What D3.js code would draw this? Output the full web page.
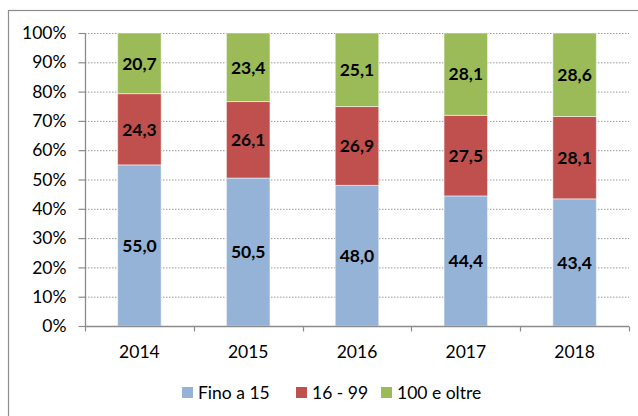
<!DOCTYPE html>
<html><head><meta charset="utf-8">
<script src="https://cdn.jsdelivr.net/npm/d3@7"></script>
<style>body{margin:0;background:#fff}svg{display:block;font-family:Lato,"Open Sans",sans-serif}</style>
</head><body><svg id="c" width="638" height="416"></svg>
<script>
const years = ["2014","2015","2016","2017","2018"];
const seriesNames = ["Fino a 15","16 - 99","100 e oltre"];
const fino15 = [55.0,50.5,48.0,44.4,43.4];
const s16_99 = [24.3,26.1,26.9,27.5,28.1];
const s100 = [20.7,23.4,25.1,28.1,28.6];
const yTicks = [0,10,20,30,40,50,60,70,80,90,100];
const colors = ["#95B3D7","#C0504D","#9BBB59"];

const svg = d3.select("#c");
svg.append("rect").attr("x",8.5).attr("y",10.5).attr("width",700).attr("height",500)
  .attr("fill","#fff").attr("stroke","#8c8c8c").attr("stroke-width",1.2);

const x = d3.scaleBand().domain(years).range([85,629]).paddingInner(0.6).paddingOuter(0.3);
const y = d3.scaleLinear().domain([0,100]).range([326,33]);

// gridlines
svg.append("g").selectAll("line").data(yTicks.filter(d=>d>0)).join("line")
  .attr("x1",85).attr("x2",629).attr("y1",d=>y(d)+0.5).attr("y2",d=>y(d)+0.5)
  .attr("stroke","#9a9a9a").attr("stroke-dasharray","1.5,1.5");

const table = years.map((yr,i)=>({year:yr,"Fino a 15":fino15[i],"16 - 99":s16_99[i],"100 e oltre":s100[i]}));
const stack = d3.stack().keys(seriesNames)(table);

const g = svg.append("g");
stack.forEach((layer,li)=>{
  layer.forEach(d=>{
    const top = Math.min(d[1],100);
    g.append("rect").attr("x",x(d.data.year)).attr("width",x.bandwidth())
      .attr("y",y(top)).attr("height",y(d[0])-y(top))
      .attr("fill",colors[li]).attr("stroke","rgba(255,255,255,0.5)").attr("stroke-width",1);
    g.append("text").attr("x",x(d.data.year)+x.bandwidth()/2).attr("y",y((d[0]+top)/2))
      .attr("dy","0.36em").attr("text-anchor","middle").attr("font-weight","bold")
      .attr("font-size",17.5).attr("fill","#000").text(d.data[layer.key].toFixed(1).replace(".",","));
  });
});

// y axis
const ya = svg.append("g").attr("transform","translate(85.5,0)")
  .call(d3.axisLeft(y).tickValues(yTicks).tickSize(7).tickPadding(12).tickFormat(d=>d+"%"));
ya.select(".domain").attr("stroke","#8c8c8c").attr("stroke-width",1.3).attr("d","M0,33V326");
ya.selectAll(".tick line").attr("stroke","#8c8c8c").attr("stroke-width",1.2);
ya.selectAll("text").attr("font-size",17.5).attr("fill","#000").attr("font-family","Lato");

// x axis
const xa = svg.append("g").attr("transform","translate(0,326.5)");
xa.append("line").attr("x1",85).attr("x2",629).attr("stroke","#8c8c8c").attr("stroke-width",1.3);
const bounds = years.map(d=>x(d)-x.step()*x.paddingInner()/2).concat([629]);
xa.selectAll(".bt").data(bounds).join("line").attr("x1",d=>Math.round(d)+0.5).attr("x2",d=>Math.round(d)+0.5)
  .attr("y1",0).attr("y2",5).attr("stroke","#8c8c8c").attr("stroke-width",1.2);
xa.selectAll(".xl").data(years).join("text").attr("x",d=>x(d)+x.bandwidth()/2).attr("y",31)
  .attr("text-anchor","middle").attr("font-size",17.5).attr("fill","#000").text(d=>d);

// legend
const legX = [182,296,381];
const lg = svg.append("g");
seriesNames.forEach((n,i)=>{
  lg.append("rect").attr("x",legX[i]).attr("y",387).attr("width",11).attr("height",11).attr("fill",colors[i]);
  lg.append("text").attr("x",legX[i]+16).attr("y",392.5).attr("dy","0.36em").attr("font-size",17.5).attr("fill","#000").text(n);
});
</script></body></html>
